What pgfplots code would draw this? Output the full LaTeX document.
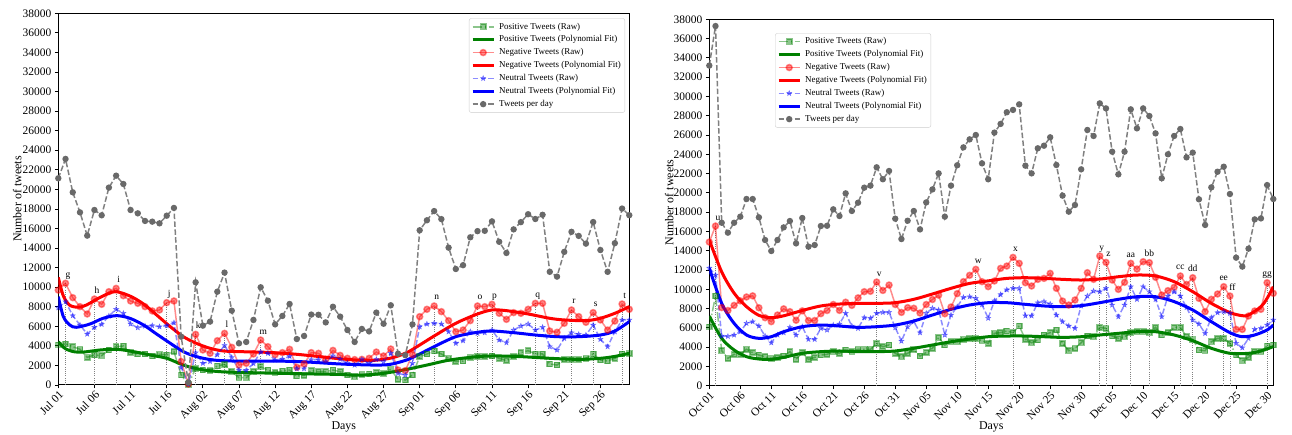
\documentclass[border=0pt]{standalone}
\usepackage{fontspec}
\setmainfont{Liberation Serif}
\usepackage{pgfplots}
\usepackage{pgfplotstable}
\pgfplotsset{compat=1.18}
\usetikzlibrary{plotmarks}

\definecolor{posc}{RGB}{0,128,0}
\definecolor{negc}{RGB}{255,0,0}
\definecolor{neuc}{RGB}{0,0,255}
\definecolor{totc}{RGB}{128,128,128}
\definecolor{totm}{RGB}{105,105,105}

\pgfdeclareplotmark{fstar}{%
  \pgfpathmoveto{\pgfqpointpolar{90}{\pgfplotmarksize}}%
  \pgfpathlineto{\pgfqpointpolar{126}{0.42\pgfplotmarksize}}%
  \pgfpathlineto{\pgfqpointpolar{162}{\pgfplotmarksize}}%
  \pgfpathlineto{\pgfqpointpolar{198}{0.42\pgfplotmarksize}}%
  \pgfpathlineto{\pgfqpointpolar{234}{\pgfplotmarksize}}%
  \pgfpathlineto{\pgfqpointpolar{270}{0.42\pgfplotmarksize}}%
  \pgfpathlineto{\pgfqpointpolar{306}{\pgfplotmarksize}}%
  \pgfpathlineto{\pgfqpointpolar{342}{0.42\pgfplotmarksize}}%
  \pgfpathlineto{\pgfqpointpolar{18}{\pgfplotmarksize}}%
  \pgfpathlineto{\pgfqpointpolar{54}{0.42\pgfplotmarksize}}%
  \pgfpathclose
  \pgfusepathqfillstroke
}

\pgfplotstableread{
i pos neg neu tot
0 4100 9700 7900 21130
1 4200 10400 8520 23110
2 3920 8930 7090 19700
3 3650 8010 6130 17650
4 2830 7260 5210 15270
5 3070 8790 5900 17890
6 3000 8250 6200 17350
7 3580 9540 7060 20180
8 3920 9880 7740 21400
9 3990 9130 7330 20550
10 3310 8590 6240 17890
11 3170 8350 5860 17550
12 3170 8010 6030 16770
13 2970 7570 6070 16700
14 3140 7670 5960 16530
15 3070 8420 6070 17310
16 3410 8590 6370 18100
17 1020 2400 1800 4940
18 50 100 80 250
19 1700 5180 3300 10500
20 1530 3580 2220 6070
21 1470 3240 2400 6480
22 1940 4530 3100 9540
23 2110 5280 4050 11490
24 1360 3850 2820 7600
25 750 2040 1530 4260
26 750 2220 1500 4400
27 1360 3170 2200 6650
28 1870 4600 3380 9990
29 1530 3920 3240 8620
30 1260 3100 2560 6200
31 1430 3310 2650 7060
32 1530 3650 2930 8280
33 920 1810 1670 4700
34 990 2150 1670 5010
35 1470 3310 2590 7200
36 1360 3240 2590 7180
37 1360 2620 2380 6400
38 1530 3540 2980 8000
39 1360 3030 2650 6990
40 1020 2730 2220 5620
41 850 2600 2040 4400
42 1090 2620 2620 5730
43 1120 2730 2220 5480
44 1260 3370 2620 7400
45 1190 2970 2390 6260
46 1600 3680 3240 8150
47 580 1530 1190 3200
48 510 1470 1020 3050
49 1020 3100 2220 6200
50 2900 6990 5960 15820
51 3170 7740 6240 16840
52 3480 8080 6310 17780
53 3170 7500 6240 16960
54 2730 6580 5450 14040
55 2390 5450 4260 11860
56 2450 5620 4530 12250
57 2830 6580 5450 15100
58 2900 8080 5280 15730
59 2900 8010 5350 15760
60 2970 8250 5620 16730
61 2730 7330 4600 14640
62 2490 6710 4330 13500
63 2900 7400 5620 15910
64 3310 7330 6030 16650
65 3510 7740 6240 17460
66 3170 8350 5620 16970
67 3170 8350 5900 17400
68 2150 5520 3920 11570
69 2040 5390 3580 11080
70 2620 6310 4770 13610
71 2620 7670 5350 15660
72 2620 6990 5180 15240
73 2730 6410 5110 14450
74 3170 7400 6130 16660
75 2560 6650 4670 13800
76 2450 5620 3920 11570
77 2730 6540 5450 14500
78 3170 8280 6650 18040
79 3240 7740 6650 17360
}\leftraw

\pgfplotstableread{
i pos neg neu tot
0 6100 14900 12200 33200
1 9300 16560 11480 37300
2 3630 8100 5150 16900
3 2840 7800 5120 15870
4 3250 8330 5260 16900
5 3250 8800 5600 17530
6 3770 9200 6470 19360
7 3430 9320 6640 19360
8 3180 8080 6190 17460
9 3010 7050 5150 15110
10 2840 6640 4460 13970
11 2910 7330 5260 15110
12 3080 7970 5500 16420
13 3530 7680 6050 17080
14 2730 6790 5260 14760
15 3430 7760 6120 17390
16 2730 6760 4810 14420
17 2940 6760 4810 14590
18 3180 7470 5950 16560
19 3250 7800 5780 16590
20 3530 8420 6290 18290
21 3360 7810 6400 17600
22 3700 8660 7510 19950
23 3530 8330 6190 18120
24 3770 9110 5950 18980
25 3770 9750 7060 20540
26 3770 9790 6990 20750
27 4390 10750 7510 22650
28 4050 9880 7610 21410
29 4220 10440 7610 22270
30 3360 8420 6020 17320
31 3010 7600 4630 15210
32 3360 8100 6120 17110
33 3770 8030 6640 18120
34 3080 7540 5500 16210
35 3430 8420 7510 19010
36 3880 8940 8030 20360
37 4980 9390 7850 22020
38 4220 7460 5260 17530
39 4560 8160 7330 20750
40 4560 9550 8190 22860
41 4810 10790 9160 24720
42 4910 11450 9230 25550
43 4910 12070 9060 26000
44 4670 10790 8400 23060
45 4390 10270 7000 21410
46 5430 10860 8800 26250
47 5500 12170 9450 27150
48 5670 12410 9950 28360
49 5500 13310 10100 28600
50 6190 12690 10100 29180
51 4810 10680 7250 22820
52 4460 10340 7250 22020
53 4740 11030 8610 24620
54 5260 11130 8720 24890
55 5500 11650 8470 25760
56 5780 10100 7330 22890
57 4390 8780 6640 19710
58 3630 8370 6190 18050
59 3880 8890 5950 18740
60 4460 10100 8270 22440
61 5150 11720 9300 26520
62 5080 11030 9820 25900
63 6050 13450 9750 29280
64 5950 12790 10100 28760
65 5150 10960 8370 24270
66 4910 9990 7160 21920
67 5080 10720 8370 24270
68 5530 12690 10270 28660
69 5600 12100 8960 26690
70 5600 12860 10270 28760
71 5500 12760 9750 27970
72 6050 11240 8960 26170
73 5260 9410 7160 21510
74 5500 9860 9300 24000
75 6050 10200 9750 25900
76 6050 11380 9300 26620
77 5080 10500 8120 23680
78 4810 11200 6820 24170
79 3700 9060 6400 19330
80 3630 7680 5430 16670
81 4560 8960 7060 20570
82 4910 9510 7580 22190
83 4910 10270 7680 22710
84 4390 9300 7510 19880
85 3180 5840 4400 13280
86 2590 5840 3940 12350
87 2940 7230 4910 14210
88 3530 7750 5850 17250
89 3530 7920 5950 17350
90 4120 10680 6300 20810
91 4220 9580 6820 19360
}\rightraw

\tikzset{lab/.style={anchor=base, font=\fontsize{9.5}{10}\selectfont, inner sep=0pt, yshift=6bp}}

\pgfplotsset{
  rawpos/.style={posc, opacity=0.45, line width=1.5bp,
    dash pattern=on 9.6bp off 2.4bp on 1.5bp off 2.4bp,
    mark=square*, mark size=2.6bp, mark options={solid, fill=posc}},
  rawneg/.style={negc, opacity=0.45, line width=1.5bp, solid,
    mark=*, mark size=3bp, mark options={solid, fill=negc}},
  rawneu/.style={neuc, opacity=0.45, line width=1.5bp,
    dash pattern=on 5.5bp off 2.4bp,
    mark=fstar, mark size=2.8bp, mark options={solid, fill=neuc, line width=0.4bp}},
  fitline/.style={line width=3bp, smooth, no marks},
  totline/.style={totc, line width=1.5bp, dash pattern=on 5.5bp off 2.4bp,
    mark=*, mark size=2.4bp, mark options={solid, fill=totm, draw=totm}},
  annot/.style={gray, line width=0.7bp, dash pattern=on 0.8bp off 1.4bp,
    ycomb, no marks, forget plot},
  panel/.style={
    scale only axis,
    ymin=0, ymax=38000,
    ytick={0,2000,...,38000},
    scaled y ticks=false,
    /pgf/number format/assume math mode=true,
    /pgf/number format/1000 sep={},
    tick pos=left,
    tick align=outside,
    major tick length=3.5bp,
    every tick/.style={black, line width=0.8bp},
    axis line style={line width=1bp},
    tick label style={font=\fontsize{11.5}{12}\selectfont},
    xticklabel style={rotate=45, anchor=north east, inner sep=1bp},
    label style={font=\fontsize{12}{14}\selectfont},
    xlabel={Days}, ylabel={Number of tweets},
    legend cell align=left,
    legend style={font=\fontsize{9}{10}\selectfont, draw=black!20,
      rounded corners=2bp, fill=white, inner xsep=2bp, inner ysep=2bp,
      row sep=0.4bp, column sep=2bp,
      nodes={inner sep=2bp, text height=6.5bp, text depth=2bp},
      cells={anchor=west}},
    legend image code/.code={\draw[mark repeat=2,mark phase=2]
      plot coordinates {(0bp,0bp) (10.5bp,0bp) (21bp,0bp)};},
  },
}

\begin{document}
\begin{tikzpicture}
\useasboundingbox (0,0) rectangle (1292bp,435bp);

% ---------------- left panel ----------------
\begin{axis}[panel,
  at={(58.3bp,50bp)}, anchor=south west,
  width=571bp, height=371.7bp,
  xmin=0, xmax=79,
  xtick={0,5,...,75},
  xticklabels={Jul 01,Jul 06,Jul 11,Jul 16,Aug 02,Aug 07,Aug 12,Aug 17,Aug 22,Aug 27,Sep 01,Sep 06,Sep 11,Sep 16,Sep 21,Sep 26},
  xlabel style={at={(axis description cs:0.5,-0.113)}, anchor=center},
  ylabel style={at={(axis description cs:-0.072,0.5)}, anchor=center},
  legend style={at={(0.9925,0.9865)}, anchor=north east},
]
\addplot[annot] coordinates {(1,10400) (5,8790) (8,9880) (15,8420) (19,5180) (23,5280) (28,4600) (52,8080) (58,8080) (60,8250) (66,8350) (71,7670) (74,7400) (78,8280)};

\addplot[rawpos] table[x=i,y=pos] {\leftraw};
\addlegendentry{Positive Tweets (Raw)}
\addplot[fitline, posc] coordinates {(0,4430) (0.9,3750) (2.1,3410) (3.5,3370) (5.8,3580) (8.1,3650) (10.4,3410) (12.7,3070) (15,2730) (17.3,2040) (19.6,1600) (22.4,1360) (26.5,1260) (31.1,1190) (35.7,1120) (39,1080) (41.8,1000) (45,1190) (48.2,1600) (51,2040) (54.2,2560) (58,2900) (60.7,2970) (64,2900) (68,2730) (72,2620) (75,2730) (77,2920) (79,3240)};
\addlegendentry{Positive Tweets (Polynomial Fit)}
\addplot[rawneg] table[x=i,y=neg] {\leftraw};
\addlegendentry{Negative Tweets (Raw)}
\addplot[fitline, negc] coordinates {(0,11000) (0.7,9100) (1.6,8150) (2.8,7950) (3.9,8180) (5.8,8960) (7.8,9540) (9.9,9100) (11.8,8280) (13.6,7160) (15.5,5960) (17.3,4940) (19.1,4260) (21,3750) (22.8,3480) (25.1,3410) (28.8,3340) (32.5,3170) (36.2,2900) (39,2680) (43,2500) (46,2750) (48.2,3310) (50,4090) (52,5010) (55,6310) (58,7260) (60,7670) (62,7600) (65,7260) (68,6820) (70,6650) (73,6580) (75,6820) (77,7330) (79,8010)};
\addlegendentry{Negative Tweets (Polynomial Fit)}
\addplot[rawneu] table[x=i,y=neu] {\leftraw};
\addlegendentry{Neutral Tweets (Raw)}
\addplot[fitline, neuc] coordinates {(0,9030) (0.7,6990) (1.6,6130) (2.5,5900) (4.4,6240) (6.2,6820) (8.1,7090) (9.9,6820) (11.8,6130) (13.6,5210) (15.5,4260) (17.3,3410) (19.1,2900) (21.4,2560) (24.2,2450) (28.8,2450) (33.4,2390) (39,2150) (43.6,2040) (45.9,2110) (48.2,2560) (50,3170) (52,3920) (55,4940) (58,5390) (60,5520) (63,5350) (66,5110) (69,4940) (72,4940) (75,5110) (77,5520) (79,6480)};
\addlegendentry{Neutral Tweets (Polynomial Fit)}
\addplot[totline] table[x=i,y=tot] {\leftraw};
\addlegendentry{Tweets per day}

\node[lab, xshift=2.5bp] at (axis cs:1,10400) {g};
\node[lab, xshift=2.5bp] at (axis cs:5,8790) {h};
\node[lab, xshift=2.5bp] at (axis cs:8,9880) {i};
\node[lab, xshift=2.5bp] at (axis cs:15,8420) {j};
\node[lab, xshift=2.5bp] at (axis cs:19,5180) {k};
\node[lab, xshift=2.5bp] at (axis cs:23,5280) {l};
\node[lab, xshift=2.5bp] at (axis cs:28,4600) {m};
\node[lab, xshift=2.5bp] at (axis cs:52,8080) {n};
\node[lab, xshift=2.5bp] at (axis cs:58,8080) {o};
\node[lab, xshift=2.5bp] at (axis cs:60,8250) {p};
\node[lab, xshift=2.5bp] at (axis cs:66,8350) {q};
\node[lab, xshift=2.5bp] at (axis cs:71,7670) {r};
\node[lab, xshift=2.5bp] at (axis cs:74,7400) {s};
\node[lab, xshift=2.5bp] at (axis cs:78,8280) {t};
\end{axis}

% ---------------- right panel ----------------
\begin{axis}[panel,
  at={(709.3bp,49.3bp)}, anchor=south west,
  width=564bp, height=366.4bp,
  xmin=0, xmax=91,
  xtick={0,5,...,90},
  xticklabels={Oct 01,Oct 06,Oct 11,Oct 16,Oct 21,Oct 26,Oct 31,Nov 05,Nov 10,Nov 15,Nov 20,Nov 25,Nov 30,Dec 05,Dec 10,Dec 15,Dec 20,Dec 25,Dec 30},
  xlabel style={at={(axis description cs:0.5,-0.1135)}, anchor=center},
  ylabel style={at={(axis description cs:-0.071,0.5)}, anchor=center},
  legend style={at={(0.1165,0.9618)}, anchor=north west},
]
\addplot[annot] coordinates {(1,16560) (27,10750) (43,12070) (49,13310) (63,13450) (64,12790) (68,12690) (71,12760) (76,11380) (78,11200) (83,10270) (84,9300) (90,10680)};

\addplot[rawpos] table[x=i,y=pos] {\rightraw};
\addlegendentry{Positive Tweets (Raw)}
\addplot[fitline, posc] coordinates {(0,7230) (2,4910) (4,3700) (6,3010) (8,2770) (10,2730) (12,2940) (15,3360) (18,3530) (21,3600) (24,3530) (27,3530) (30,3600) (33,3880) (36,4220) (39,4560) (42,4840) (45,5080) (48,5150) (51,5150) (54,5080) (57,5010) (60,5080) (63,5260) (66,5430) (69,5600) (72,5600) (75,5260) (78,4670) (81,3880) (84,3360) (87,3360) (89,3600) (91,4050)};
\addlegendentry{Positive Tweets (Polynomial Fit)}
\addplot[rawneg] table[x=i,y=neg] {\rightraw};
\addlegendentry{Negative Tweets (Raw)}
\addplot[fitline, negc] coordinates {(0,15110) (2,11800) (4,9600) (6,8200) (8,7300) (10,7060) (12,7250) (15,7800) (18,8270) (21,8470) (24,8540) (27,8540) (30,8610) (33,8960) (36,9510) (39,10100) (42,10610) (45,10870) (48,11130) (51,11200) (54,11130) (57,11030) (60,10960) (63,11060) (66,11300) (69,11480) (72,11380) (75,10790) (78,9750) (81,8540) (84,7580) (86,7260) (87,7330) (89,8190) (90,9060) (91,10270)};
\addlegendentry{Negative Tweets (Polynomial Fit)}
\addplot[rawneu] table[x=i,y=neu] {\rightraw};
\addlegendentry{Neutral Tweets (Raw)}
\addplot[fitline, neuc] coordinates {(0,12170) (2,8540) (4,6470) (6,5260) (8,4910) (10,5080) (12,5600) (15,6120) (18,6290) (21,6190) (24,6050) (27,6120) (30,6290) (33,6710) (36,7330) (39,7920) (42,8370) (45,8610) (48,8610) (51,8440) (54,8270) (57,8190) (60,8300) (63,8610) (66,8960) (69,9230) (72,9230) (75,8720) (78,7850) (81,6640) (84,5500) (86,5080) (88,5260) (90,5780) (91,6300)};
\addlegendentry{Neutral Tweets (Polynomial Fit)}
\addplot[totline] table[x=i,y=tot] {\rightraw};
\addlegendentry{Tweets per day}

\node[lab, xshift=2.5bp] at (axis cs:1,16560) {u};
\node[lab, xshift=2.5bp] at (axis cs:27,10750) {v};
\node[lab, xshift=2.5bp] at (axis cs:43,12070) {w};
\node[lab, xshift=2.5bp] at (axis cs:49,13310) {x};
\node[lab, xshift=2bp] at (axis cs:63,13450) {y};
\node[lab, xshift=2.5bp] at (axis cs:64,12790) {z};
\node[lab] at (axis cs:68,12690) {aa};
\node[lab] at (axis cs:71,12760) {bb};
\node[lab] at (axis cs:76,11380) {cc};
\node[lab] at (axis cs:78,11200) {dd};
\node[lab] at (axis cs:83,10270) {ee};
\node[lab, xshift=2.5bp] at (axis cs:84,9300) {ff};
\node[lab] at (axis cs:90,10680) {gg};
\end{axis}
\end{tikzpicture}
\end{document}
